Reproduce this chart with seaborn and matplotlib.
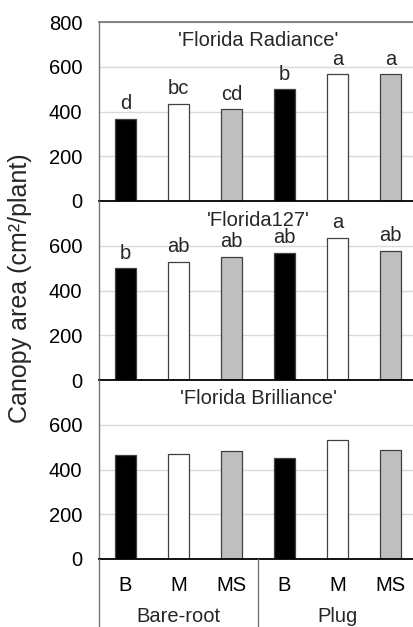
import matplotlib
matplotlib.use("Agg")
import matplotlib.pyplot as plt
import seaborn as sns
import pandas as pd
from matplotlib.lines import Line2D
from matplotlib.transforms import blended_transform_factory, offset_copy

sns.set_theme(style="white")
plt.rcParams['font.family'] = ['Liberation Sans', 'DejaVu Sans']

# ---- data ----
cultivars = ["'Florida Radiance'", "'Florida127'", "'Florida Brilliance'"]
groups = ["Bare-root", "Bare-root", "Bare-root", "Plug", "Plug", "Plug"]
treatments = ["B", "M", "MS", "B", "M", "MS"]
radiance = [368, 434, 409, 499, 566, 566]
fl127 = [499, 529, 551, 568, 636, 578]
brilliance = [467, 468, 483, 450, 530, 486]
radiance_letters = ["d", "bc", "cd", "b", "a", "a"]
fl127_letters = ["b", "ab", "ab", "ab", "a", "ab"]
brilliance_letters = ["", "", "", "", "", ""]
group_names = ["Bare-root", "Plug"]
fill_colors = {"B": "#000000", "M": "#ffffff", "MS": "#bfbfbf"}

values = [radiance, fl127, brilliance]
letters = [radiance_letters, fl127_letters, brilliance_letters]
keys = [g + "|" + t for g, t in zip(groups, treatments)]
palette = {k: fill_colors[t] for k, t in zip(keys, treatments)}

FS = 14.5
W, H = 413, 627
fig = plt.figure(figsize=(W / 100, H / 100), dpi=100)
left_px, right_px = 99, 417
tops = [22, 201, 380]
hpx = 179
grid_col = "#d9d9d9"
axis_col = "#767676"

axes = []
for i in range(3):
    ax = fig.add_axes([left_px / W, 1 - (tops[i] + hpx) / H,
                       (right_px - left_px) / W, hpx / H])
    axes.append(ax)
    df = pd.DataFrame({"key": keys, "value": values[i]})
    sns.barplot(data=df, x="key", y="value", hue="key", order=keys,
                hue_order=keys, palette=palette, saturation=1, width=0.41,
                edgecolor="#404040", linewidth=0.9, legend=False, ax=ax,
                zorder=3)
    ax.set_xlim(-0.5, 5.5)
    ax.set_ylim(0, 800)
    if i == 0:
        ax.set_yticks([0, 200, 400, 600, 800])
    else:
        ax.set_yticks([0, 200, 400, 600])
    ax.yaxis.grid(True, color=grid_col, lw=1, zorder=0)
    ax.set_axisbelow(True)
    ax.tick_params(axis="y", length=0, pad=12, labelsize=FS, colors="black")
    ax.set_xlabel("")
    ax.set_ylabel("")
    ax.set_facecolor("none")
    ax.spines["right"].set_visible(False)
    ax.spines["top"].set_visible(i == 0)
    ax.spines["top"].set_color(axis_col)
    ax.spines["left"].set_color(axis_col)
    ax.spines["left"].set_linewidth(1)
    ax.spines["bottom"].set_color("black")
    ax.spines["bottom"].set_linewidth(1.3)
    ax.spines["bottom"].set_zorder(5)
    ax.text(0.5, 1 - 19 / hpx, cultivars[i], ha="center", va="center",
            fontsize=FS, transform=ax.transAxes)
    off = offset_copy(ax.transData, fig=fig, x=0, y=7, units="points")
    for j, (v, lt) in enumerate(zip(values[i], letters[i])):
        if lt:
            ax.text(j, v, lt, ha="center", va="baseline", fontsize=FS,
                    transform=off)
    if i < 2:
        ax.set_xticks([])
    else:
        ax.set_xticks(range(len(treatments)))
        ax.set_xticklabels(treatments)
        ax.tick_params(axis="x", length=0, pad=12, labelsize=FS,
                       colors="black")

ax = axes[2]
tr = blended_transform_factory(ax.transData, fig.transFigure)
y0 = 1 - 559 / H
for xv in [-0.5, 2.5, 5.5]:
    fig.add_artist(Line2D([xv, xv], [0, y0], transform=tr, color=axis_col,
                          lw=1, clip_on=False))
for gx, gname in zip([1, 4], group_names):
    fig.text(gx, 1 - 617 / H, gname, ha="center", va="center", fontsize=FS,
             transform=tr)

fig.text(20 / W, 1 - 288 / H, "Canopy area (cm\u00b2/plant)", rotation=90,
         ha="center", va="center", fontsize=18)

fig.savefig("out.png", dpi=100)
